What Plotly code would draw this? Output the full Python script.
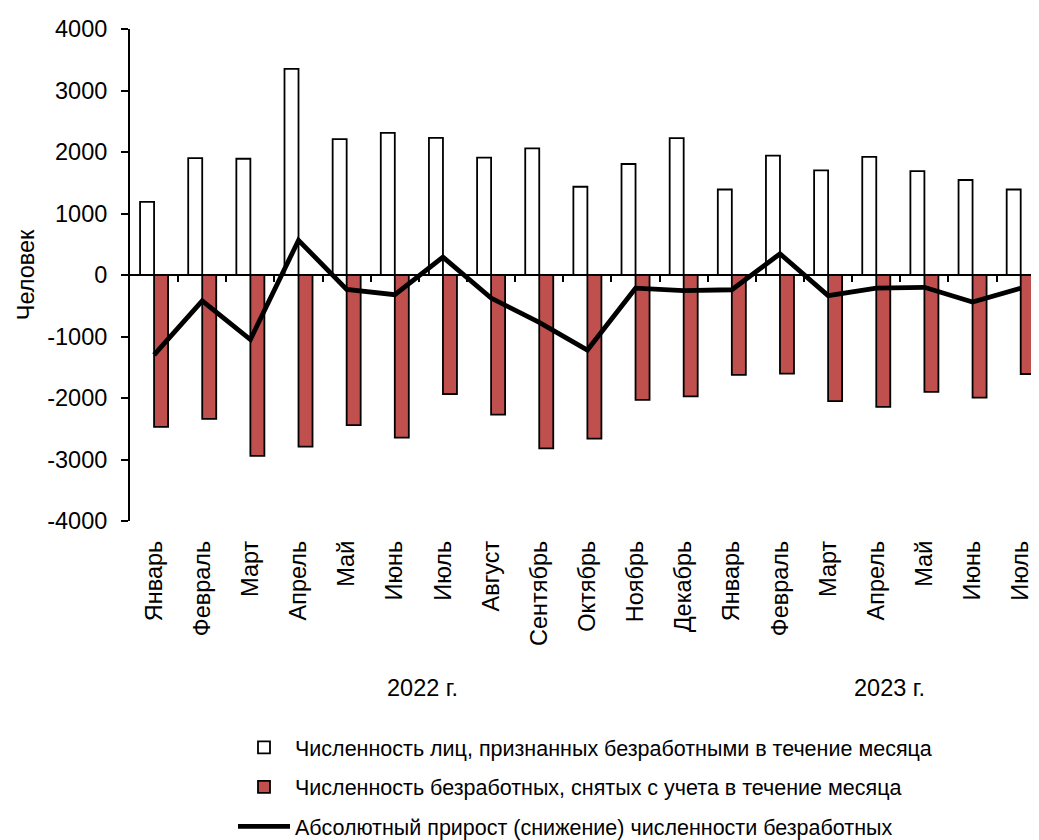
import plotly.graph_objects as go

months = ["Январь", "Февраль", "Март", "Апрель", "Май", "Июнь", "Июль", "Август",
          "Сентябрь", "Октябрь", "Ноябрь", "Декабрь",
          "Январь", "Февраль", "Март", "Апрель", "Май", "Июнь", "Июль"]
x = list(range(len(months)))

registered = [1190, 1900, 1890, 3350, 2210, 2310, 2230, 1910, 2060, 1435, 1805, 2225,
              1390, 1940, 1700, 1920, 1690, 1545, 1390]
removed = [-2470, -2340, -2940, -2790, -2440, -2645, -1935, -2270, -2820, -2660, -2030, -1975,
           -1625, -1605, -2050, -2145, -1900, -1995, -1610]
net = [-1300, -420, -1050, 565, -235, -320, 290, -375, -770, -1220, -215, -255,
       -240, 345, -335, -215, -200, -440, -215]

y_ticks = [-4000, -3000, -2000, -1000, 0, 1000, 2000, 3000, 4000]
y_ticktext = ["-4000", "-3000", "-2000", "-1000", "0", "1000", "2000", "3000", "4000"]

year_labels = ["2022 г.", "2023 г."]
year_pos = [5.58, 15.28]

legend_names = ["Численность лиц, признанных безработными в течение месяца",
                "Численность безработных, снятых с учета в течение месяца",
                "Абсолютный прирост (снижение) численности безработных"]

FONT = "Liberation Sans, Arial, sans-serif"
FS_AX = 23.5
FS_LEG = 21.5

# the page body adds an 8px offset; figure is sized so it ends at the window edge
OFF = 8
W, H = 1039 - OFF, 840 - OFF
LEFT, TOP, BOTTOM = 130, 29, 521      # plot area in window pixels
PW = 1039 - LEFT
PH = BOTTOM - TOP


def py(px):
    return (BOTTOM - px) / PH


def pxp(px):
    return (px - LEFT) / PW


fig = go.Figure()
fig.add_trace(go.Bar(x=x, y=registered, name=legend_names[0], legendgroup="a",
                     marker=dict(color="white", line=dict(color="black", width=1.8))))
fig.add_trace(go.Bar(x=x, y=removed, name=legend_names[1], legendgroup="b",
                     marker=dict(color="#C0504D", line=dict(color="black", width=1.8))))
fig.add_trace(go.Scatter(x=x, y=net, name=legend_names[2], legendgroup="c", xaxis="x2",
                         mode="lines", line=dict(color="black", width=4.8)))

xr = [-0.5, 18.38]
fig.update_layout(
    width=W, height=H,
    margin=dict(l=LEFT - OFF, r=0, t=TOP - OFF, b=H - (BOTTOM - OFF), autoexpand=False),
    paper_bgcolor="white", plot_bgcolor="white",
    font=dict(family=FONT, size=FS_AX, color="black"),
    barmode="group", bargap=0.418, bargroupgap=0,
    showlegend=True,
    legend=dict(orientation="v", x=pxp(233), xanchor="left", y=py(727), yanchor="top",
                tracegroupgap=8.5, itemwidth=52, font=dict(size=FS_LEG),
                bgcolor="rgba(0,0,0,0)"),
    xaxis=dict(range=xr, tickmode="array", tickvals=x, ticktext=months, tickangle=-90,
               ticks="", showline=False, showgrid=False, zeroline=False,
               ticklabelstandoff=14, tickfont=dict(size=FS_AX)),
    xaxis2=dict(range=xr, overlaying="x", anchor="free", position=0.5, side="bottom",
                showline=True, linecolor="black", linewidth=2,
                tickmode="array", tickvals=[i + 0.5 for i in x[:-1]],
                ticks="outside", ticklen=6, tickwidth=2, tickcolor="black",
                showticklabels=False, showgrid=False, zeroline=False),
    yaxis=dict(range=[-4000, 4000], tickmode="array",
               tickvals=y_ticks, ticktext=y_ticktext,
               showline=True, linecolor="black", linewidth=2,
               ticks="outside", ticklen=7, tickwidth=2, tickcolor="black",
               showgrid=False, zeroline=False, ticklabelstandoff=9,
               tickfont=dict(size=FS_AX),
               title=dict(text="Человек", standoff=6, font=dict(size=FS_AX))),
)
for lbl, pos in zip(year_labels, year_pos):
    fig.add_annotation(x=pos, y=py(688), xref="x", yref="paper", yanchor="middle",
                       text=lbl, showarrow=False, font=dict(size=FS_AX))

fig.write_html("out.html")
